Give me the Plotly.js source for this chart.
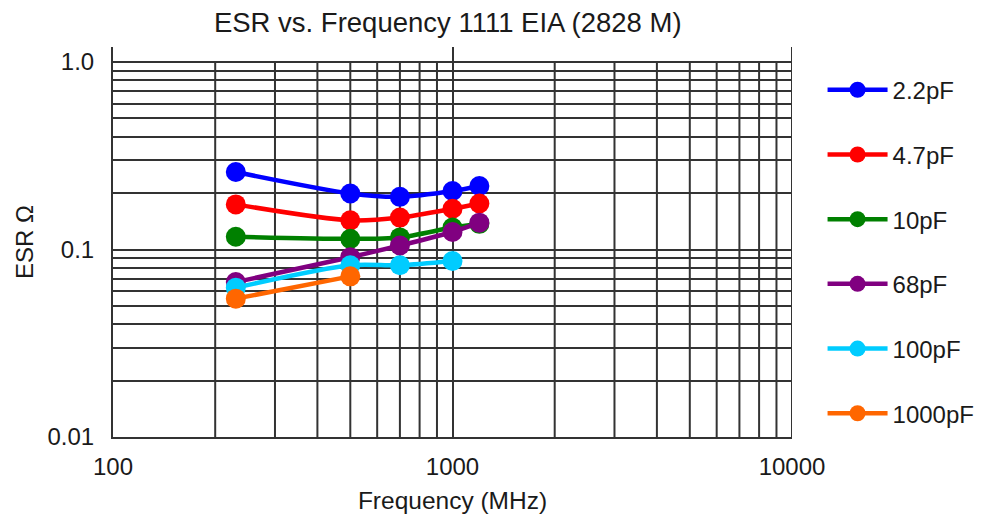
<!DOCTYPE html>
<html>
<head>
<meta charset="utf-8">
<script src="https://cdn.plot.ly/plotly-3.0.1.min.js"></script>
<style>
html,body{margin:0;padding:0;background:#fff;}
#chart{width:995px;height:522px;}
</style>
</head>
<body>
<div id="chart"></div>
<script>
// Frequencies (MHz)
const freq = [230, 500, 700, 1000, 1200];

// ESR (ohm) per capacitance
const esr_2p2pF  = [0.259, 0.199, 0.191, 0.205, 0.218];
const esr_4p7pF  = [0.174, 0.143, 0.148, 0.165, 0.176];
const esr_10pF   = [0.117, 0.114, 0.116, 0.131, 0.137];
const esr_68pF   = [0.067, 0.091, 0.105, 0.124, 0.139];
const esr_100pF  = [0.0626, 0.0824, 0.0824, 0.0868];
const esr_1000pF = [0.0547, 0.0719];

const seriesNames  = ['2.2pF', '4.7pF', '10pF', '68pF', '100pF', '1000pF'];
const seriesValues = [esr_2p2pF, esr_4p7pF, esr_10pF, esr_68pF, esr_100pF, esr_1000pF];
const seriesColors = ['#0000ff', '#ff0000', '#008000', '#800080', '#00ccff', '#ff6600'];

// Axis ticks
const xMajorTicks = [100, 1000, 10000];
const xMajorText  = ['100', '1000', '10000'];
const xMinorTicks = [200, 300, 400, 500, 600, 700, 800, 900, 2000, 3000, 4000, 5000, 6000, 7000, 8000, 9000];
const yTicks = [0.01, 0.02, 0.03, 0.04, 0.05, 0.06, 0.07, 0.08, 0.09, 0.1, 0.2, 0.3, 0.4, 0.5, 0.6, 0.7, 0.8, 0.9, 1.0];
const yTickText = ['0.01', '', '', '', '', '', '', '', '', '0.1', '', '', '', '', '', '', '', '', '1.0'];
const yGridBottom = 0.01;
const yGridTop = 1.0;

const FONT = 'Liberation Sans, Arial, sans-serif';
const TXT = '#1a1a1a';
const GRID = '#333333';
const GW = 2;

const traces = seriesNames.map((name, i) => ({
  type: 'scatter',
  mode: 'lines+markers',
  name: name,
  legendgroup: 'g' + i,
  x: freq.slice(0, seriesValues[i].length),
  y: seriesValues[i],
  line: {color: seriesColors[i], width: 4.5, shape: 'spline', smoothing: 0.8},
  marker: {color: seriesColors[i], size: 20},
  cliponaxis: false
}));

// minor vertical grid lines stop at the 1.0 line
const shapes = xMinorTicks.map(v => ({
  type: 'line', xref: 'x', yref: 'y', layer: 'below',
  x0: v, x1: v,
  y0: yGridBottom, y1: yGridTop,
  line: {color: GRID, width: GW}
}));
// major line at the right edge (range end)
shapes.push({
  type: 'line', xref: 'x', yref: 'paper', layer: 'below',
  x0: xMajorTicks[2], x1: xMajorTicks[2], y0: 0, y1: 1,
  line: {color: GRID, width: GW}
});

const layout = {
  width: 995, height: 522,
  margin: {l: 113, r: 203, t: 47, b: 85, pad: 0},
  paper_bgcolor: '#ffffff',
  plot_bgcolor: '#ffffff',
  font: {family: FONT, color: TXT, size: 24},
  title: {
    text: 'ESR vs. Frequency 1111 EIA (2828 M)',
    font: {family: FONT, size: 27.5, color: TXT},
    x: 0.45, xanchor: 'center', xref: 'container',
    y: 0.958, yanchor: 'middle', yref: 'container'
  },
  xaxis: {
    type: 'log',
    range: [2, 4],
    tickmode: 'array',
    tickvals: xMajorTicks,
    ticktext: xMajorText,
    showgrid: true, gridcolor: GRID, gridwidth: GW,
    showline: true, linecolor: GRID, linewidth: GW,
    ticks: '',
    zeroline: false,
    ticklabelstandoff: 7,
    tickfont: {family: FONT, size: 24, color: TXT},
    title: {text: 'Frequency (MHz)', font: {family: FONT, size: 24.5, color: TXT}, standoff: 13}
  },
  yaxis: {
    type: 'log',
    range: [-2, 0.08],
    tickmode: 'array',
    tickvals: yTicks,
    ticktext: yTickText,
    showgrid: true, gridcolor: GRID, gridwidth: GW,
    showline: true, linecolor: GRID, linewidth: GW,
    ticks: '',
    zeroline: false,
    ticklabelstandoff: 12,
    tickfont: {family: FONT, size: 24, color: TXT},
    title: {text: 'ESR Ω', font: {family: FONT, size: 24, color: TXT}, standoff: 7}
  },
  showlegend: true,
  legend: {
    x: 1.045, xanchor: 'left',
    y: 0.947, yanchor: 'top',
    traceorder: 'grouped',
    tracegroupgap: 30.5,
    itemwidth: 60,
    font: {family: FONT, size: 24, color: TXT},
    bgcolor: 'rgba(0,0,0,0)',
    borderwidth: 0
  },
  shapes: shapes
};

Plotly.newPlot('chart', traces, layout, {displayModeBar: false, staticPlot: true});
</script>
</body>
</html>
